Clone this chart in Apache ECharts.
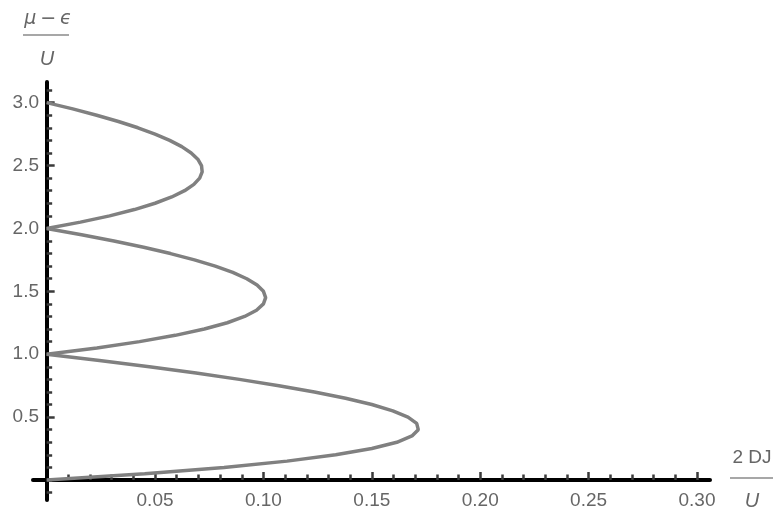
<!DOCTYPE html>
<html>
<head>
<meta charset="utf-8">
<script src="https://cdn.jsdelivr.net/npm/echarts@6/dist/echarts.min.js"></script>
<style>
  html, body { margin: 0; padding: 0; background: #fff; }
  #chart { width: 777px; height: 513px; }
</style>
</head>
<body>
<div id="chart"></div>
<script>
// Mott lobes: hopping strength 2DJ/U at the phase boundary vs chemical potential (μ − ϵ)/U
const lobe1Mu = [0.00, 0.05, 0.10, 0.15, 0.20, 0.25, 0.30, 0.35, 0.40, 0.45, 0.50,
                 0.55, 0.60, 0.65, 0.70, 0.75, 0.80, 0.85, 0.90, 0.95, 1.00];
const lobe1X  = [0, 0.045238, 0.081818, 0.110870, 0.133333, 0.150000, 0.161538, 0.168519, 0.171429, 0.170690, 0.166667,
                 0.159677, 0.150000, 0.137879, 0.123529, 0.107143, 0.088889, 0.068919, 0.047368, 0.024359, 0];

const lobe2Mu = [1.00, 1.05, 1.10, 1.15, 1.20, 1.25, 1.30, 1.35, 1.40, 1.45, 1.50,
                 1.55, 1.60, 1.65, 1.70, 1.75, 1.80, 1.85, 1.90, 1.95, 2.00];
const lobe2X  = [0, 0.023171, 0.042857, 0.059302, 0.072727, 0.083333, 0.091304, 0.096809, 0.100000, 0.101020, 0.100000,
                 0.097059, 0.092308, 0.085849, 0.077778, 0.068182, 0.057143, 0.044737, 0.031034, 0.016102, 0];

const lobe3Mu = [2.00, 2.05, 2.10, 2.15, 2.20, 2.25, 2.30, 2.35, 2.40, 2.45, 2.50,
                 2.55, 2.60, 2.65, 2.70, 2.75, 2.80, 2.85, 2.90, 2.95, 3.00];
const lobe3X  = [0, 0.015574, 0.029032, 0.040476, 0.050000, 0.057692, 0.063636, 0.067910, 0.070588, 0.071739, 0.071429,
                 0.069718, 0.066667, 0.062329, 0.056757, 0.050000, 0.042105, 0.033117, 0.023077, 0.012025, 0];

// Axis ranges and tick labels
const X_MIN = -0.0063, X_MAX = 0.306;
const Y_MIN = -0.159, Y_MAX = 3.164;
const xMajorTicks = [0.05, 0.10, 0.15, 0.20, 0.25, 0.30];
const yMajorTicks = [0.5, 1.0, 1.5, 2.0, 2.5, 3.0];

const xMinorTicks = [];
for (let i = 1; i <= 30; i++) xMinorTicks.push(i / 100);
const yMinorTicks = [];
for (let i = -1; i <= 31; i++) yMinorTicks.push(i / 10);

const FONT = "'Liberation Sans', Arial, sans-serif";
const LABEL_COLOR = '#666';
const TICK_COLOR = '#3a3a3a';
const CURVE_COLOR = '#808080';

function pairs(xs, ys) { return xs.map((x, i) => [x, ys[i]]); }

function lobeSeries(xs, mus) {
  return {
    type: 'line',
    data: pairs(xs, mus),
    xAxisIndex: 0,
    yAxisIndex: 0,
    showSymbol: false,
    smooth: false,
    lineStyle: { color: CURVE_COLOR, width: 3.5 },
    z: 3
  };
}

const chart = echarts.init(document.getElementById('chart'), null, { renderer: 'canvas' });

// Tick labels are laid out from the grid edge, so margins are measured from there
chart.setOption({
  animation: false,
  backgroundColor: '#fff',
  grid: { left: 33, right: 67, top: 82, bottom: 13, containLabel: false, outerBoundsMode: 'none' },
  xAxis: [
    {
      type: 'value', min: X_MIN, max: X_MAX, position: 'bottom',
      axisLine: { show: true, onZero: true, onZeroAxisIndex: 0, lineStyle: { color: '#000', width: 4 } },
      axisTick: { show: true, inside: true, length: 8, customValues: xMajorTicks,
                  lineStyle: { color: TICK_COLOR, width: 2.5 } },
      axisLabel: { show: true, customValues: xMajorTicks, margin: -9,
                   formatter: v => v.toFixed(2), color: LABEL_COLOR, fontSize: 19, fontFamily: FONT },
      splitLine: { show: false }
    },
    {
      type: 'value', min: X_MIN, max: X_MAX, position: 'bottom',
      axisLine: { show: false, onZero: true, onZeroAxisIndex: 0 },
      axisTick: { show: true, inside: true, length: 5.5, customValues: xMinorTicks,
                  lineStyle: { color: TICK_COLOR, width: 2.5 } },
      axisLabel: { show: false },
      splitLine: { show: false }
    }
  ],
  yAxis: [
    {
      type: 'value', min: Y_MIN, max: Y_MAX, position: 'left',
      axisLine: { show: true, onZero: true, onZeroAxisIndex: 0, lineStyle: { color: '#000', width: 4 } },
      axisTick: { show: true, inside: true, length: 8, customValues: yMajorTicks,
                  lineStyle: { color: TICK_COLOR, width: 2.5 } },
      axisLabel: { show: true, customValues: yMajorTicks, margin: -6,
                   formatter: v => v.toFixed(1), color: LABEL_COLOR, fontSize: 19, fontFamily: FONT },
      splitLine: { show: false }
    },
    {
      type: 'value', min: Y_MIN, max: Y_MAX, position: 'left',
      axisLine: { show: false, onZero: true, onZeroAxisIndex: 0 },
      axisTick: { show: true, inside: true, length: 5.5, customValues: yMinorTicks,
                  lineStyle: { color: TICK_COLOR, width: 2.5 } },
      axisLabel: { show: false },
      splitLine: { show: false }
    }
  ],
  series: [
    lobeSeries(lobe1X, lobe1Mu),
    lobeSeries(lobe2X, lobe2Mu),
    lobeSeries(lobe3X, lobe3Mu)
  ],
  graphic: [
    // vertical axis title: (μ − ϵ) / U
    { type: 'text', style: { text: 'μ\u2009−\u2009ϵ', x: 48, y: 19, align: 'center', verticalAlign: 'middle',
        fill: LABEL_COLOR, font: "italic 19px 'DejaVu Sans', sans-serif" } },
    { type: 'line', shape: { x1: 23, y1: 35, x2: 69, y2: 35 }, style: { stroke: '#8a8a8a', lineWidth: 1.5 } },
    { type: 'text', style: { text: 'U', x: 47, y: 59, align: 'center', verticalAlign: 'middle',
        fill: LABEL_COLOR, font: "italic 20px 'Liberation Sans', sans-serif" } },
    // horizontal axis title: 2DJ / U
    { type: 'text', style: { text: '2 DJ', x: 752, y: 458, align: 'center', verticalAlign: 'middle',
        fill: LABEL_COLOR, font: "19px 'Liberation Sans', sans-serif" } },
    { type: 'line', shape: { x1: 730, y1: 478, x2: 773, y2: 478 }, style: { stroke: '#8a8a8a', lineWidth: 1.5 } },
    { type: 'text', style: { text: 'U', x: 752, y: 501, align: 'center', verticalAlign: 'middle',
        fill: LABEL_COLOR, font: "italic 20px 'Liberation Sans', sans-serif" } }
  ]
});
</script>
</body>
</html>
